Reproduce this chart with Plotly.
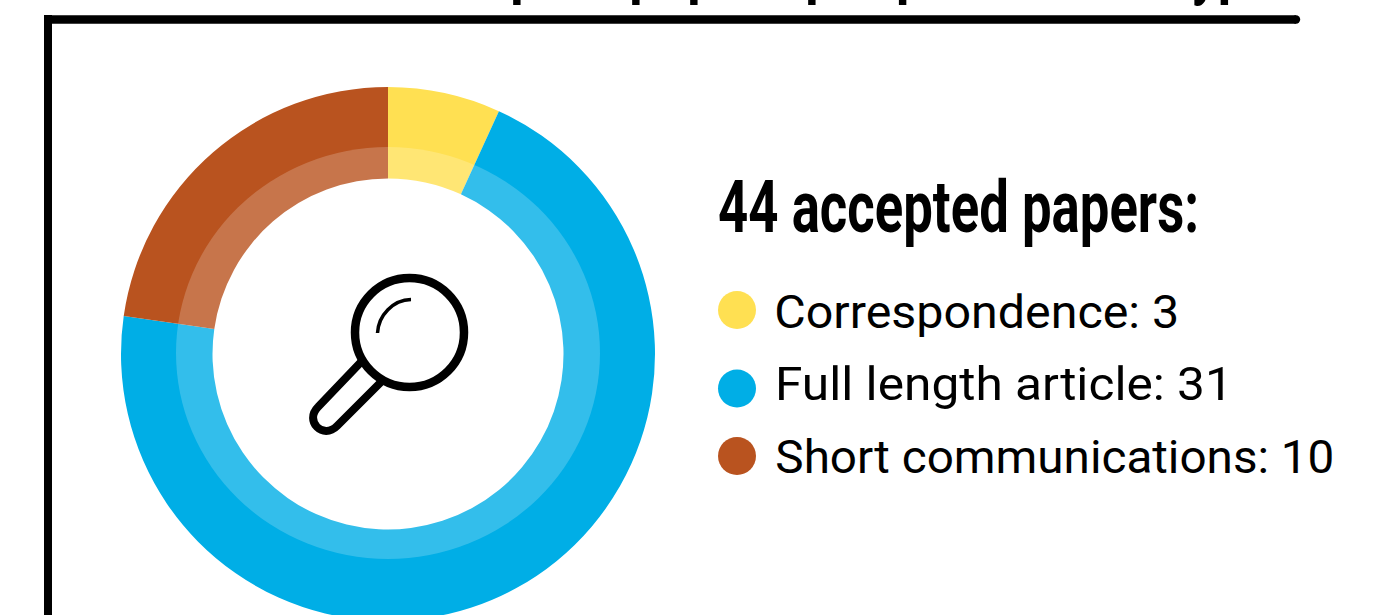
import json
import plotly.graph_objects as go

W, H = 1383, 640  # taller than the window: the ring is cropped at the bottom edge

categories = ["Correspondence", "Full length article", "Short communications"]
values = [3, 31, 10]
colors = ["#FFE052", "#00AEE6", "#B9531F"]
heading = "44 accepted papers:"
title = "Number of accepted papers per publication type"


def px(x):
    return x / W


def py(y):
    return 1 - y / H


def ring_domain(cx, cy, r):
    return dict(x=[px(cx - r), px(cx + r)], y=[py(cy + r), py(cy - r)])


CX, CY = 388, 354
R_OUT, R_IN = 267, 175.5

fig = go.Figure()
fig.add_trace(go.Pie(values=values, labels=categories, sort=False, direction="clockwise", rotation=0,
                     domain=ring_domain(CX, CY, R_OUT), hole=R_IN / R_OUT,
                     marker=dict(colors=colors, line=dict(width=0)), textinfo="none", showlegend=False))

shapes = []


def line(x0, y0, x1, y1, w):
    shapes.append(dict(type="line", xref="paper", yref="paper", x0=px(x0), y0=py(y0), x1=px(x1), y1=py(y1),
                       line=dict(color="black", width=w)))


def ellipse(cx, cy, rx, ry, fill="rgba(0,0,0,0)", stroke=None, w=0):
    shapes.append(dict(type="circle", xref="paper", yref="paper", x0=px(cx - rx), x1=px(cx + rx),
                       y0=py(cy + ry), y1=py(cy - ry), fillcolor=fill,
                       line=dict(color=stroke or "rgba(0,0,0,0)", width=w)))


def path(points, w):
    d = ""
    for cmd, pts in points:
        d += cmd + " ".join(f"{px(x):.5f},{py(y):.5f}" for x, y in pts) + " "
    shapes.append(dict(type="path", xref="paper", yref="paper", path=d.strip(),
                       line=dict(color="black", width=w)))


# lighter inner band of the ring
ellipse(CX, 353, 212, 206, fill="rgba(255,255,255,0.2)")

# frame
line(48, 19.5, 1296, 19.5, 8.5)
line(48, 15, 48, H, 8)
ellipse(1296, 19.5, 4.2, 4.2, fill="black")

# magnifier
path([("M", [(361, 362)]), ("L", [(318, 407)]),
      ("C", [(304, 421), (323, 440), (337, 426)]), ("L", [(381, 382)])], 8)
ellipse(409.5, 332.5, 54.5, 54.5, fill="white", stroke="black", w=8.5)
path([("M", [(377.5, 333)]), ("C", [(378.5, 315), (393, 300), (411, 299.5)])], 3.5)

# legend dots
for c, y in zip(colors, [310, 388.5, 456]):
    ellipse(737, y, 19, 19, fill=c)

label_texts = [f"{c}: {v}" for c, v in zip(categories, values)]
# (text, left px, right px, vertical centre px, font size, bold)
text_boxes = [
    (heading, 718, 1199, 207, 72, True),
    (label_texts[0], 774, 1179, 311, 47, False),
    (label_texts[1], 775, 1233, 383, 47, False),
    (label_texts[2], 775, 1334, 456, 47, False),
    (title, 133, 1276, -34, 72, True),
]

annotations = []
fit = []
for text, left, right, yc, size, bold in text_boxes:
    annotations.append(dict(x=px((left + right) / 2), y=py(yc), xref="paper", yref="paper",
                            xanchor="center", yanchor="middle", showarrow=False,
                            text=f"<b>{text}</b>" if bold else text,
                            font=dict(family="Roboto", size=size, color="black")))
    fit.append(right - left)

fig.update_layout(width=W, height=H, margin=dict(l=0, r=0, t=0, b=0), autosize=False,
                  paper_bgcolor="white", plot_bgcolor="white", shapes=shapes, annotations=annotations)

post = """
document.body.style.margin='0';
document.body.style.overflow='hidden';
document.documentElement.style.overflow='hidden';
var fit = %s;
document.querySelectorAll('text.annotation-text').forEach(function(t, i) {
  t.setAttribute('textLength', fit[i]);
  t.setAttribute('lengthAdjust', 'spacingAndGlyphs');
});
""" % json.dumps(fit)
fig.write_html("out.html", config=dict(displayModeBar=False), post_script=post)
